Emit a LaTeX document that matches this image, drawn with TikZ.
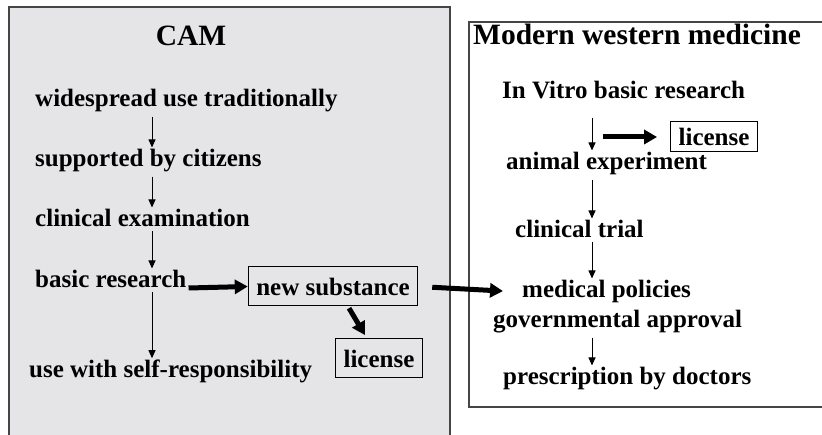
\documentclass[tikz,border=0pt]{standalone}
\usepackage{fontspec}
\setmainfont{Liberation Serif}
\usetikzlibrary{arrows.meta}
\definecolor{panelgray}{HTML}{E5E5E7}
\definecolor{framegray}{HTML}{454545}
\begin{document}
\begin{tikzpicture}[x=1pt,y=-1pt,
    every node/.style={font=\fontsize{25}{30}\selectfont\bfseries, inner sep=2pt},
    txt/.style={anchor=base west},
    head/.style={font=\fontsize{29.5}{34}\selectfont\bfseries},
    boxed/.style={draw, line width=1pt, inner xsep=8pt, minimum height=39pt},
    flow/.style={-{Triangle[length=8pt,width=7pt]}, line width=1pt, shorten <=2pt},
    fat/.style={line width=5pt, -{Triangle[length=13pt,width=14pt]}}]
      \clip (0,0) rectangle (822,435);
      % panels
      \draw[fill=panelgray, draw=framegray, line width=1.5pt] (9,7) rectangle (450,445);
      \draw[fill=white, draw=framegray, line width=1.5pt] (469,22) rectangle (830,407);
      \coordinate (ax) at (152,0);
      \coordinate (bx) at (592,0);
      % CAM side
      \node[head] (cam) at (191,36) {CAM};
      \node[txt] (wide) at (33,107) {widespread use traditionally};
      \node[txt] (supp) at (33,167) {supported by citizens};
      \node[txt] (clin) at (33,227) {clinical examination};
      \node[txt] (basic) at (33,288) {basic research};
      \node[txt] (self) at (27,378) {use with self-responsibility};
      \node[boxed] (newsub) at (333,286.5) {new substance};
      \node[boxed] (lica) at (379,358.5) {license};
      \draw[flow] (wide.south -| ax) -- (supp.north -| ax);
      \draw[flow] (supp.south -| ax) -- (clin.north -| ax);
      \draw[flow] (clin.south -| ax) -- (basic.north -| ax);
      \draw[flow] (basic.south -| ax) -- (self.north -| ax);
      \draw[fat] (basic.base east) -- (newsub.west);
      \draw[fat, shorten <=2pt, shorten >=4pt] ([xshift=15pt]newsub.south) -- ([xshift=-12pt]lica.north);
      % western side
      \node[head, txt] (modern) at (471,45) {Modern western medicine};
      \node[txt] (vitro) at (500,99) {In Vitro basic research};
      \node[txt] (animal) at (504,170) {animal experiment};
      \node[txt] (trial) at (513,238) {clinical trial};
      \node[txt] (medpol) at (520,298) {medical policies};
      \node[txt] (govapp) at (491,328) {governmental approval};
      \node[txt] (presc) at (501,385) {prescription by doctors};
      \node[boxed, minimum height=30pt] (licb) at (714,137) {license};
      \draw[flow, shorten <=16pt] (vitro.south -| bx) -- (animal.north -| bx);
      \draw[flow] (animal.south -| bx) -- (trial.north -| bx);
      \draw[flow] (trial.south -| bx) -- (medpol.north -| bx);
      \draw[flow] (govapp.south -| bx) -- (presc.north -| bx);
      \draw[fat, shorten <=11pt, shorten >=13pt] (licb.west -| bx) -- (licb.west);
      \draw[fat, shorten <=14pt, shorten >=17pt] (newsub.east) -- (medpol.west);
\end{tikzpicture}
\end{document}
